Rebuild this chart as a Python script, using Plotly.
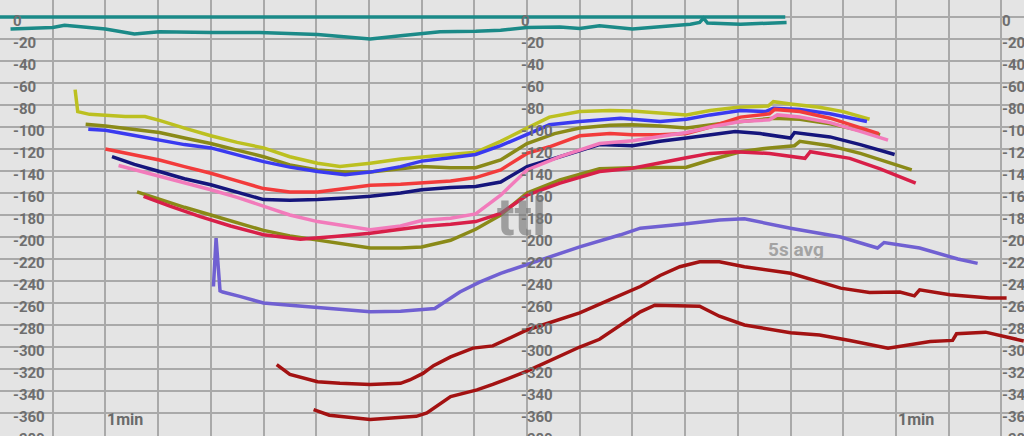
import plotly.graph_objects as go

# time in seconds (grid every 4 s, "1min" marks at 8 s and 68 s), values in the chart's units
zero_t = [0, 59.6]
zero_v = [0, 0]

teal_t = [0.8, 2.3, 4.0, 4.9, 8.0, 10.2, 12.1, 16.0, 19.7, 24.1, 25.8, 28.1, 30.4, 33.4, 36.1, 38.0,
          40.0, 42.5, 44.0, 45.5, 48.0, 50.1, 52.4, 53.1, 53.4, 53.7, 56.2, 59.7]
teal_v = [-11, -10, -9.5, -7.5, -11, -15.5, -13.5, -14, -14, -16, -18, -20, -17, -13.5, -13, -12,
          -9.5, -9, -10.5, -8, -11, -9, -6.5, -5, -1, -5.5, -6.5, -5]

lime_t = [5.7, 5.9, 6.8, 9.5, 11.0, 12.1, 14.0, 16.0, 18.0, 20.0, 22.0, 24.1, 25.8, 28.1, 30.4, 32.0,
          34.2, 36.1, 38.0, 40.0, 41.7, 44.0, 46.3, 48.0, 50.1, 52.1, 53.9, 56.0, 58.3, 58.7, 60.0,
          62.2, 64.0, 66.0]
lime_v = [-66, -86, -88.5, -90.5, -90.5, -94, -101, -108, -114, -119, -127, -133, -136, -133, -129, -127,
          -125, -123, -113, -101, -91, -86, -85, -85.5, -87, -89, -85, -82, -81, -77, -79,
          -82, -86, -93]

olive1_t = [6.5, 8.0, 11.0, 12.1, 14.0, 16.0, 18.0, 20.0, 22.0, 24.1, 26.2, 28.1, 30.4, 32.0, 34.2, 36.1,
            38.0, 40.0, 42.1, 44.0, 46.3, 48.0, 50.1, 52.1, 54.6, 56.9, 58.7, 60.7, 63.0, 64.9, 66.8]
olive1_v = [-97.5, -99, -103.5, -105, -110, -115, -121, -127, -134.5, -139, -141, -141, -138, -136, -137, -137,
            -130, -115, -106, -101, -98.5, -98, -99, -101, -97, -94, -92, -93, -97, -102, -107]

blue_t = [6.7, 8.0, 9.9, 12.1, 14.0, 16.0, 18.0, 20.0, 22.0, 24.1, 26.2, 28.1, 30.4, 32.0, 34.2, 36.1,
          38.0, 40.0, 41.7, 44.0, 47.1, 50.1, 52.1, 53.9, 56.2, 58.1, 58.7, 60.7, 63.0, 65.8]
blue_v = [-102, -103, -107, -112, -116, -119, -125, -131.5, -136.5, -140.5, -143.5, -141, -136, -131, -128, -125,
          -117, -107, -98, -95, -92, -95, -93, -89, -85, -86, -83, -84, -88, -95]

red_t = [8.0, 9.9, 12.1, 14.0, 16.0, 18.0, 20.0, 22.0, 24.1, 26.2, 28.1, 30.4, 32.0, 34.2, 36.1, 38.0,
         40.0, 41.7, 44.0, 46.3, 48.0, 50.1, 52.1, 53.9, 56.2, 58.4, 58.8, 60.7, 63.0, 64.9, 66.7]
red_v = [-120, -125, -130, -136, -142, -149, -156, -159, -159, -156, -153, -152, -151, -149, -146, -139,
         -124, -118, -108, -106, -107, -107, -106, -100, -91, -88, -84, -86, -92, -99, -106]

navy_t = [8.5, 10.2, 12.1, 14.0, 16.0, 18.0, 20.0, 22.0, 24.1, 26.2, 28.1, 30.4, 32.0, 34.2, 36.1, 38.0,
          40.0, 42.5, 45.5, 48.0, 50.1, 52.1, 53.9, 55.8, 57.7, 60.0, 60.3, 63.0, 65.3, 67.9]
navy_v = [-127, -134, -140.5, -147, -152.5, -159, -166, -166.5, -166, -164.5, -163, -160, -157, -155, -154, -150,
          -136, -127, -116, -117, -113, -110, -107, -104, -106, -110, -105, -109, -116, -125]

pink_t = [9.0, 10.6, 12.1, 14.0, 16.0, 18.0, 20.0, 22.0, 24.1, 26.2, 28.1, 30.4, 32.0, 34.2, 36.1, 38.0,
          40.0, 42.5, 45.5, 48.0, 50.1, 52.1, 53.9, 56.2, 58.4, 59.0, 60.7, 63.0, 65.3, 67.4]
pink_v = [-135, -140, -145, -151, -157, -164, -172, -180, -186, -190, -193.5, -190, -185, -183, -179, -162,
          -139, -127, -115, -112.5, -109, -105, -100, -95, -93.5, -89, -91, -96, -104, -112]

olive2_t = [10.4, 12.1, 14.0, 16.0, 18.0, 20.0, 22.0, 24.1, 26.2, 28.1, 30.4, 32.0, 34.2, 36.1, 38.0,
            40.0, 42.5, 45.5, 48.0, 50.1, 52.1, 53.9, 56.2, 58.4, 60.3, 60.7, 63.0, 65.3, 67.6, 69.2]
olive2_v = [-159, -166, -173, -180, -187, -194, -199, -203, -207, -210, -210, -209, -203, -193, -180,
            -160, -148, -138, -137, -137, -136.5, -130, -122.5, -119, -117, -113, -117, -124, -133, -139]

crimson_t = [10.9, 12.9, 15.2, 17.5, 20.0, 22.8, 25.4, 28.1, 30.4, 32.0, 34.2, 36.1, 38.0, 40.0,
             42.5, 45.5, 48.0, 50.1, 52.1, 53.9, 55.8, 58.4, 61.1, 61.5, 64.5, 66.8, 69.5]
crimson_v = [-163, -172, -181.5, -190, -198, -202, -199.5, -196.5, -193, -190.5, -188.5, -186, -178.5, -162,
             -151, -140.5, -137.5, -133, -128, -124, -122.5, -124, -128.5, -122.5, -128.5, -138, -151]

avg_t = [16.2, 16.4, 16.7, 16.9, 18.2, 20.0, 22.0, 24.1, 26.2, 28.1, 30.4, 33.0, 34.9, 36.4, 38.0,
         40.0, 41.7, 44.0, 47.1, 48.6, 52.1, 54.6, 56.5, 60.0, 63.8, 66.6, 67.1, 69.8, 72.7, 74.2]
avg_v = [-245, -201, -249, -250, -254, -260, -262, -264, -266, -268, -267.5, -265, -250, -241, -233,
         -225, -218, -209, -198, -192, -188, -184.5, -183.5, -192, -200, -210, -205, -210, -220, -224]

dred1_t = [21.0, 22.0, 24.1, 25.8, 28.1, 30.4, 31.1, 32.1, 32.9, 34.2, 35.9, 37.4, 40.0, 42.5, 44.0,
           46.3, 48.6, 50.1, 51.6, 53.1, 54.6, 56.5, 60.0, 63.8, 66.0, 68.3, 69.4, 69.8, 72.1, 75.1, 76.4]
dred1_v = [-316, -325, -331.5, -333, -334, -333, -330, -324, -317, -309, -301, -299, -284.5, -275, -269,
           -257, -245, -235, -227, -222.5, -222.5, -227, -233, -246.5, -250.5, -250, -253.5, -248, -252.5,
           -255.5, -255.5]

dred2_t = [23.8, 25.0, 28.1, 30.4, 31.6, 32.4, 34.2, 36.2, 37.4, 40.0, 42.0, 44.0, 45.5, 47.1, 48.6,
           49.7, 51.6, 53.1, 54.6, 56.5, 60.0, 62.2, 64.5, 67.4, 70.6, 72.3, 72.6, 74.8, 77.7]
dred2_v = [-357, -362, -366, -364, -363, -360, -345, -339, -334, -322, -311, -300, -293, -280, -268,
           -262, -262.5, -263, -272, -280, -287, -289, -294, -301, -295, -294, -288, -286.5, -294.5]

y_ticks = list(range(0, -400, -20))
min_marks = [8, 68]

series = [
    (zero_t, zero_v, "#1b8a88", 3.5),
    (teal_t, teal_v, "#1b8a88", 3.5),
    (lime_t, lime_v, "#bcc020", 3.5),
    (olive1_t, olive1_v, "#8a8a18", 3.5),
    (blue_t, blue_v, "#3a3af0", 3.5),
    (red_t, red_v, "#f23b3b", 3.5),
    (navy_t, navy_v, "#15157c", 3.5),
    (pink_t, pink_v, "#f27bbb", 3.5),
    (olive2_t, olive2_v, "#8a8a18", 3.5),
    (crimson_t, crimson_v, "#d81f48", 3.5),
    (avg_t, avg_v, "#7060d2", 3.5),
    (dred1_t, dred1_v, "#a31212", 3.5),
    (dred2_t, dred2_v, "#a31212", 3.5),
]

fig = go.Figure()
for t, v, col, w in series:
    fig.add_trace(go.Scatter(x=t, y=v, mode="lines", line=dict(color=col, width=w),
                             hoverinfo="skip", showlegend=False))

label_font = dict(family="Roboto", size=15, color="#6e6e6e", weight="bold")
annotations = []
for xp in [0.011, 0.507, 0.9765]:
    for val in y_ticks:
        annotations.append(dict(x=xp, xref="paper", y=val, yref="y", text=str(val),
                                showarrow=False, xanchor="left", yanchor="middle", yshift=-4,
                                font=label_font))
for m in min_marks:
    annotations.append(dict(x=m, y=-366, text="1min", showarrow=False, xanchor="left",
                            yanchor="middle", font=dict(family="Roboto", size=16, color="#6a6a6a",
                                                        weight="bold")))
annotations.append(dict(x=60.4, y=-211, text="5s avg", showarrow=False, xanchor="center",
                        yanchor="middle", font=dict(family="Roboto", size=19, color="#a3a3a3",
                                                    weight="bold")))
annotations.append(dict(x=39.6, y=-182, text="ttl", showarrow=False, xanchor="center",
                        yanchor="middle", font=dict(family="Roboto", size=52,
                                                    color="rgba(120,120,120,0.65)", weight="bold")))

fig.update_xaxes(range=[0, 77.72], dtick=4, tick0=0, showgrid=True, gridcolor="#a9a9a9",
                 gridwidth=1.5, zeroline=False, showticklabels=False, showline=False)
fig.update_yaxes(range=[-380.9, 15.45], dtick=20, tick0=0, showgrid=True, gridcolor="#a9a9a9",
                 gridwidth=1.5, zeroline=False, showticklabels=False, showline=False)
fig.update_layout(
    width=1024,
    height=436,
    margin=dict(l=0, r=0, t=0, b=0),
    paper_bgcolor="#e4e4e4",
    plot_bgcolor="#e4e4e4",
    annotations=annotations,
)

# the page's default body margin would push the figure 8px down and right
fig.write_html("out.html", config={"displayModeBar": False},
               post_script="document.body.style.margin='0';")
